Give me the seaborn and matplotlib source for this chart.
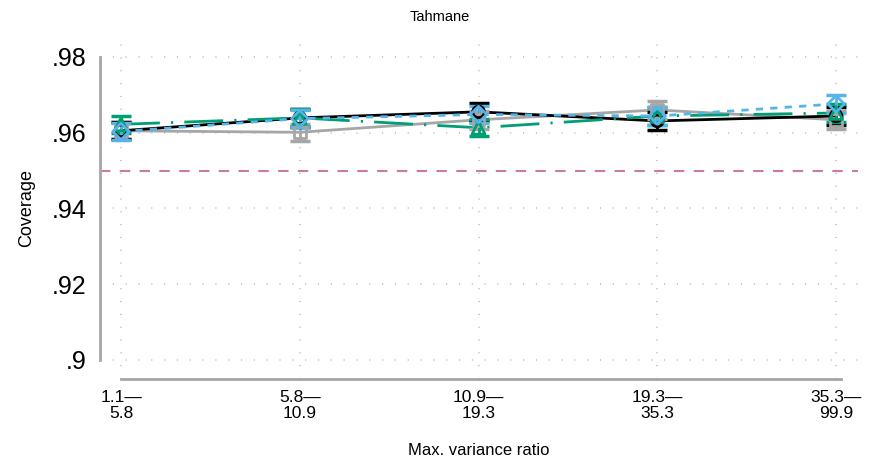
import numpy as np
import pandas as pd
import matplotlib
matplotlib.use('Agg')
import matplotlib.pyplot as plt
import seaborn as sns

# ── Data ──────────────────────────────────────────────────────────────────────
categories = ['1.1—\n5.8', '5.8—\n10.9', '10.9—\n19.3', '19.3—\n35.3', '35.3—\n99.9']
black_vals = [0.9605, 0.9639, 0.9655, 0.9631, 0.9644]
gray_vals  = [0.9605, 0.9601, 0.9634, 0.9660, 0.9634]
green_vals = [0.9622, 0.9639, 0.9613, 0.9644, 0.9652]
blue_vals  = [0.9603, 0.9637, 0.9648, 0.9644, 0.9676]
err_half   = [0.0023, 0.0023, 0.0023, 0.0023, 0.0023]
nominal    = 0.95
yticks     = [0.90, 0.92, 0.94, 0.96, 0.98]
ytick_labels = ['.9', '.92', '.94', '.96', '.98']

sns.set_style('white')
plt.rcParams['font.family'] = ['Liberation Sans', 'DejaVu Sans']
plt.rcParams['text.color'] = 'black'
plt.rcParams['axes.labelcolor'] = 'black'
plt.rcParams['xtick.labelcolor'] = 'black'
plt.rcParams['ytick.labelcolor'] = 'black'

x = np.arange(len(categories))
df = pd.DataFrame({
    'x': np.tile(x, 4),
    'cov': black_vals + gray_vals + green_vals + blue_vals,
    'series': ['black'] * 5 + ['gray'] * 5 + ['green'] * 5 + ['blue'] * 5,
})

colors  = {'black': 'black', 'gray': '#A6A6A6', 'green': '#009E73', 'blue': '#56B4E9'}
dashes  = {'black': '', 'gray': '', 'green': (14, 4, 0.8, 4), 'blue': (2.6, 2.6)}
markers = {'black': 'o', 'gray': 's', 'green': '^', 'blue': 'D'}
vals    = {'black': black_vals, 'gray': gray_vals, 'green': green_vals, 'blue': blue_vals}
order   = ['gray', 'black', 'green', 'blue']

fig = plt.figure(figsize=(8.69, 4.62), dpi=100)
ax = fig.add_axes([100 / 869, 0.1799, 757.5 / 869, 0.7379])

# grid (dotted, Stata-like)
for xi in x:
    ax.axvline(xi, color='#C4C4C4', lw=1.3, ls=(0, (0.6, 6.5)), zorder=0)
for yt in yticks:
    ax.axhline(yt, color='#C4C4C4', lw=1.3, ls=(0, (0.6, 6.5)), zorder=0)

ax.axhline(nominal, color='#CC79A7', lw=1.5, ls=(0, (5, 4.5)), zorder=1)

sns.lineplot(data=df, x='x', y='cov', hue='series', style='series',
             palette=colors, dashes=dashes, markers=False, lw=2,
             legend=False, ax=ax, zorder=3,
             hue_order=order, style_order=order)

for name in order:
    ax.errorbar(x, vals[name], yerr=err_half, fmt='none', ecolor=colors[name],
                elinewidth=2, capsize=7, capthick=2.5, zorder=4)
    ax.scatter(x, vals[name], marker=markers[name],
               s=85 if name == 'green' else 70, facecolors='none',
               edgecolors=colors[name], linewidths=2, zorder=5)

ax.set_xlim(-0.1175, 4.12)
ax.set_ylim(0.895, 0.985)
ax.set_yticks(yticks)
ax.set_yticklabels(ytick_labels, fontsize=18)
ax.set_xticks(x)
ax.set_xticklabels(categories, fontsize=12.5, linespacing=1.1)

for side in ['top', 'right']:
    ax.spines[side].set_visible(False)
ax.spines['left'].set_bounds(0.90, 0.98)
ax.spines['left'].set_color('#A6A6A6')
ax.spines['left'].set_linewidth(2)
ax.spines['bottom'].set_bounds(0, 4.03)
ax.spines['bottom'].set_color('#A6A6A6')
ax.spines['bottom'].set_linewidth(2)
ax.tick_params(axis='y', length=3, color='#A6A6A6', pad=7)
ax.tick_params(axis='x', length=3, color='#A6A6A6', pad=5)

ax.set_xlabel('Max. variance ratio', fontsize=12, labelpad=16)
ax.set_ylabel('Coverage', fontsize=13, labelpad=12)
fig.text(440 / 869, 1 - 17 / 462, 'Tahmane', fontsize=10.5, ha='center', va='center')

plt.savefig('out.png', dpi=100)
plt.close()
